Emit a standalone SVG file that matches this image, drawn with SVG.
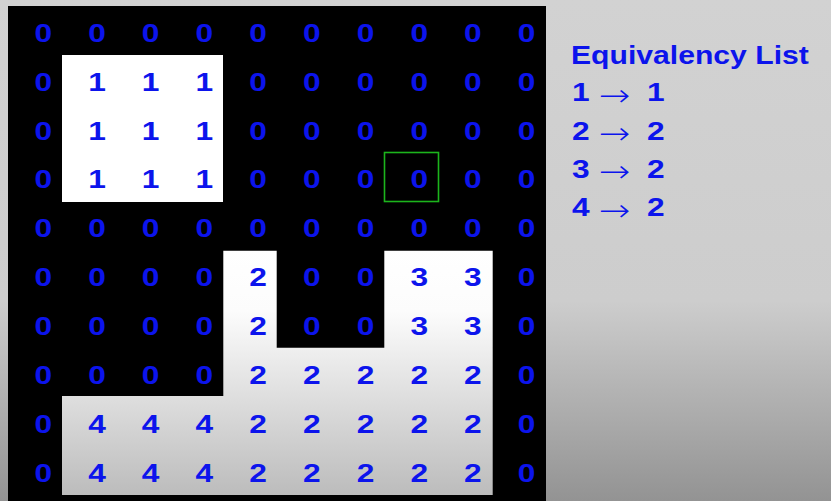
<svg xmlns="http://www.w3.org/2000/svg" width="831" height="501" viewBox="0 0 831 501">
<defs>
<linearGradient id="bg" x1="0" y1="0" x2="0" y2="501" gradientUnits="userSpaceOnUse">
<stop offset="0" stop-color="#d2d2d2"/>
<stop offset="0.6" stop-color="#cdcdcd"/>
<stop offset="1" stop-color="#939393"/>
</linearGradient>
<linearGradient id="reg" x1="0" y1="250" x2="0" y2="495" gradientUnits="userSpaceOnUse">
<stop offset="0" stop-color="#ffffff"/>
<stop offset="0.25" stop-color="#fcfcfc"/>
<stop offset="1" stop-color="#bcbcbc"/>
</linearGradient>
<style>
.d{font-family:"Liberation Sans",Arial,sans-serif;font-weight:bold;font-size:26px;fill:#0c14ec;text-anchor:middle}
.t{font-family:"Liberation Sans",Arial,sans-serif;font-weight:bold;font-size:26px;fill:#0c14ec}
.a{font-family:"DejaVu Sans",sans-serif;font-weight:200;font-size:31px;fill:#0c14ec}
</style>
</defs>
<rect id="background" x="0" y="0" width="831" height="501" fill="url(#bg)"/>
<g id="image-grid">
<rect x="8" y="6" width="538" height="495" fill="#000"/>
<rect id="region-1" x="62" y="55" width="161" height="147" fill="#fff"/>
<path id="region-2" d="M223.3,250.7 H276.7 V347.7 H384.3 V250.7 H492.7 V495 H62 V396 H223.3 Z" fill="url(#reg)"/>
<rect id="current-pixel" x="384.5" y="152.5" width="54" height="49" fill="none" stroke="#1cb41c" stroke-width="1.6"/>
</g>
<g id="labels" transform="scale(1.22,1)">
<g id="row0"><text class="d" x="35.49" y="41.8">0</text><text class="d" x="79.51" y="41.8">0</text><text class="d" x="123.52" y="41.8">0</text><text class="d" x="167.54" y="41.8">0</text><text class="d" x="211.56" y="41.8">0</text><text class="d" x="255.57" y="41.8">0</text><text class="d" x="299.59" y="41.8">0</text><text class="d" x="343.61" y="41.8">0</text><text class="d" x="387.62" y="41.8">0</text><text class="d" x="431.64" y="41.8">0</text></g>
<g id="row1"><text class="d" x="35.49" y="90.7">0</text><text class="d" x="79.51" y="90.7">1</text><text class="d" x="123.52" y="90.7">1</text><text class="d" x="167.54" y="90.7">1</text><text class="d" x="211.56" y="90.7">0</text><text class="d" x="255.57" y="90.7">0</text><text class="d" x="299.59" y="90.7">0</text><text class="d" x="343.61" y="90.7">0</text><text class="d" x="387.62" y="90.7">0</text><text class="d" x="431.64" y="90.7">0</text></g>
<g id="row2"><text class="d" x="35.49" y="139.6">0</text><text class="d" x="79.51" y="139.6">1</text><text class="d" x="123.52" y="139.6">1</text><text class="d" x="167.54" y="139.6">1</text><text class="d" x="211.56" y="139.6">0</text><text class="d" x="255.57" y="139.6">0</text><text class="d" x="299.59" y="139.6">0</text><text class="d" x="343.61" y="139.6">0</text><text class="d" x="387.62" y="139.6">0</text><text class="d" x="431.64" y="139.6">0</text></g>
<g id="row3"><text class="d" x="35.49" y="188.5">0</text><text class="d" x="79.51" y="188.5">1</text><text class="d" x="123.52" y="188.5">1</text><text class="d" x="167.54" y="188.5">1</text><text class="d" x="211.56" y="188.5">0</text><text class="d" x="255.57" y="188.5">0</text><text class="d" x="299.59" y="188.5">0</text><text class="d" x="343.61" y="188.5">0</text><text class="d" x="387.62" y="188.5">0</text><text class="d" x="431.64" y="188.5">0</text></g>
<g id="row4"><text class="d" x="35.49" y="237.4">0</text><text class="d" x="79.51" y="237.4">0</text><text class="d" x="123.52" y="237.4">0</text><text class="d" x="167.54" y="237.4">0</text><text class="d" x="211.56" y="237.4">0</text><text class="d" x="255.57" y="237.4">0</text><text class="d" x="299.59" y="237.4">0</text><text class="d" x="343.61" y="237.4">0</text><text class="d" x="387.62" y="237.4">0</text><text class="d" x="431.64" y="237.4">0</text></g>
<g id="row5"><text class="d" x="35.49" y="286.3">0</text><text class="d" x="79.51" y="286.3">0</text><text class="d" x="123.52" y="286.3">0</text><text class="d" x="167.54" y="286.3">0</text><text class="d" x="211.56" y="286.3">2</text><text class="d" x="255.57" y="286.3">0</text><text class="d" x="299.59" y="286.3">0</text><text class="d" x="343.61" y="286.3">3</text><text class="d" x="387.62" y="286.3">3</text><text class="d" x="431.64" y="286.3">0</text></g>
<g id="row6"><text class="d" x="35.49" y="335.2">0</text><text class="d" x="79.51" y="335.2">0</text><text class="d" x="123.52" y="335.2">0</text><text class="d" x="167.54" y="335.2">0</text><text class="d" x="211.56" y="335.2">2</text><text class="d" x="255.57" y="335.2">0</text><text class="d" x="299.59" y="335.2">0</text><text class="d" x="343.61" y="335.2">3</text><text class="d" x="387.62" y="335.2">3</text><text class="d" x="431.64" y="335.2">0</text></g>
<g id="row7"><text class="d" x="35.49" y="384.1">0</text><text class="d" x="79.51" y="384.1">0</text><text class="d" x="123.52" y="384.1">0</text><text class="d" x="167.54" y="384.1">0</text><text class="d" x="211.56" y="384.1">2</text><text class="d" x="255.57" y="384.1">2</text><text class="d" x="299.59" y="384.1">2</text><text class="d" x="343.61" y="384.1">2</text><text class="d" x="387.62" y="384.1">2</text><text class="d" x="431.64" y="384.1">0</text></g>
<g id="row8"><text class="d" x="35.49" y="433">0</text><text class="d" x="79.51" y="433">4</text><text class="d" x="123.52" y="433">4</text><text class="d" x="167.54" y="433">4</text><text class="d" x="211.56" y="433">2</text><text class="d" x="255.57" y="433">2</text><text class="d" x="299.59" y="433">2</text><text class="d" x="343.61" y="433">2</text><text class="d" x="387.62" y="433">2</text><text class="d" x="431.64" y="433">0</text></g>
<g id="row9"><text class="d" x="35.49" y="481.9">0</text><text class="d" x="79.51" y="481.9">4</text><text class="d" x="123.52" y="481.9">4</text><text class="d" x="167.54" y="481.9">4</text><text class="d" x="211.56" y="481.9">2</text><text class="d" x="255.57" y="481.9">2</text><text class="d" x="299.59" y="481.9">2</text><text class="d" x="343.61" y="481.9">2</text><text class="d" x="387.62" y="481.9">2</text><text class="d" x="431.64" y="481.9">0</text></g>
</g>
<g id="equivalency-list" transform="scale(1.22,1)">
<text class="t" x="468" y="64" textLength="195" lengthAdjust="spacingAndGlyphs">Equivalency List</text>
<g id="eq1"><text class="t" x="468.9" y="101.5">1</text><text class="a" x="490.6" y="106">→</text><text class="t" x="530.3" y="101.5">1</text></g>
<g id="eq2"><text class="t" x="468.9" y="139.7">2</text><text class="a" x="490.6" y="144.2">→</text><text class="t" x="530.3" y="139.7">2</text></g>
<g id="eq3"><text class="t" x="468.9" y="177.9">3</text><text class="a" x="490.6" y="182.4">→</text><text class="t" x="530.3" y="177.9">2</text></g>
<g id="eq4"><text class="t" x="468.9" y="216.1">4</text><text class="a" x="490.6" y="220.6">→</text><text class="t" x="530.3" y="216.1">2</text></g>
</g>
</svg>
